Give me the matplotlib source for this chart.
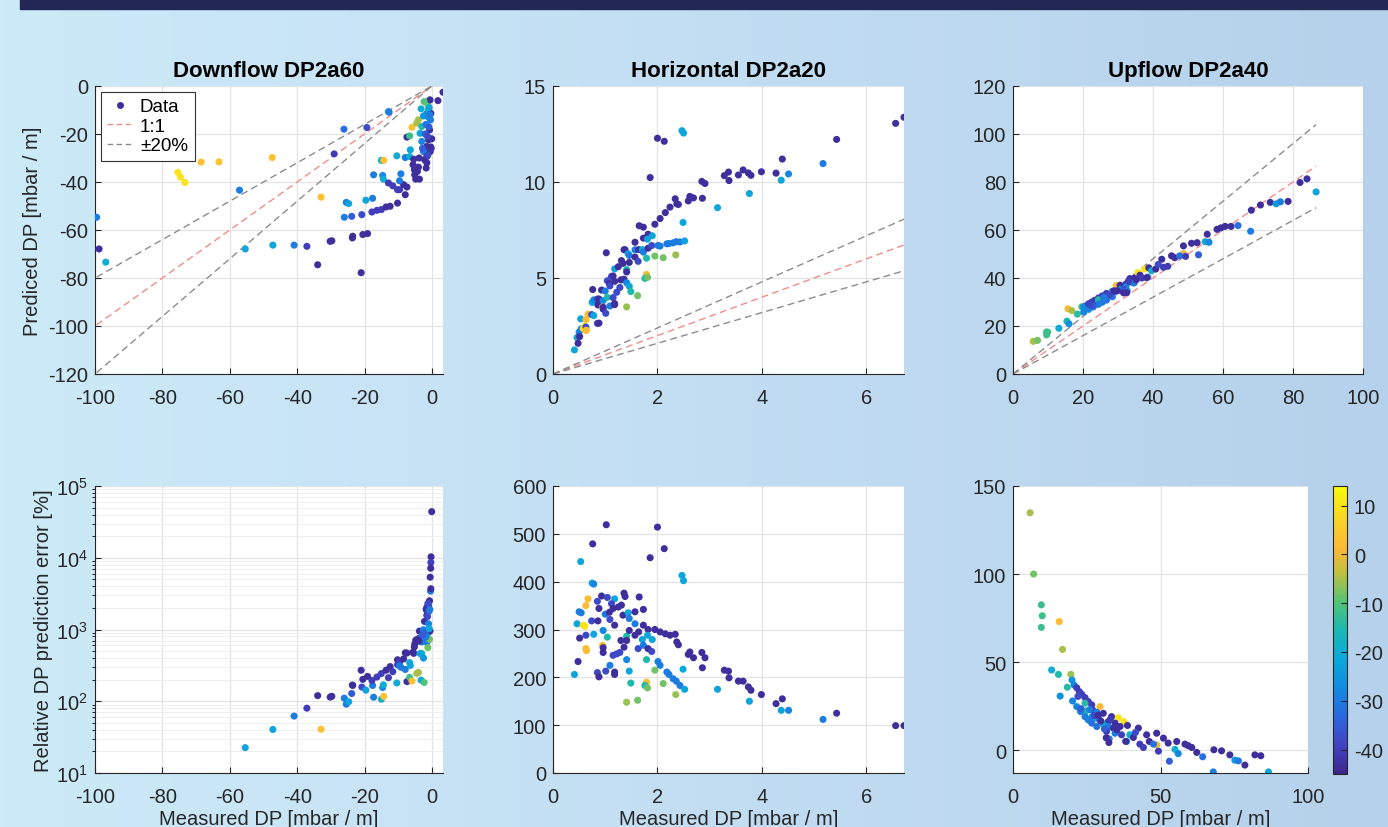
import numpy as np
import matplotlib
matplotlib.use("Agg")
import matplotlib.pyplot as plt
from matplotlib.colors import LinearSegmentedColormap, Normalize
from matplotlib.patches import Rectangle
from matplotlib.lines import Line2D

plt.rcParams['font.family'] = ['Liberation Sans', 'DejaVu Sans']
plt.rcParams['axes.unicode_minus'] = False

# ---- data -------------------------------------------------------------
# Downflow: measured DP, predicted DP, colour value
down_meas = [-99.5, -98.8, -96.8, -75.4, -74.6, -73.3, -68.5, -63.2, -47.4, -57.1,
             -55.4, -47.2, -40.9, -37.1, -32.9, -29.0, -33.9, -30.2, -29.7, -26.1,
             -26.0, -25.4, -24.7, -23.8, -23.5, -23.6, -20.8, -21.0, -20.5, -19.1,
             -19.6, -17.6, -19.3, -17.3, -17.8, -16.3, -15.0, -15.0, -14.3, -14.6,
             -14.4, -12.9, -12.7, -13.6, -12.4, -12.9, -11.6, -10.2, -10.4, -10.2,
             -9.6, -8.4, -7.9, -7.4, -9.2, -9.6, -7.9, -6.6, -7.4, -6.6,
             -5.9, -6.4, -5.4, -5.6, -5.2, -5.1, -4.8, -4.3, -4.0, -3.7,
             -4.5, -4.0, -3.0, -3.5, -3.0, -2.5, -2.2, -1.5, -1.7, -1.5,
             -1.0, -0.7, -1.5, -1.2, -0.7, -1.0, -0.4, -0.3, -0.55, 1.8,
             3.3, -1.5, -0.5, -0.05, -0.25, -0.3, -0.35, -1.2, -2.0, -1.8,
             -2.5, -1.0, -0.8, -3.2, -2.3, -2.8, -1.3, -0.9, -0.6, -3.8]
down_pred = [-54.7, -67.9, -73.4, -36.0, -38.0, -40.2, -31.7, -31.6, -29.8, -43.4,
             -67.9, -66.3, -66.3, -66.8, -46.3, -28.3, -74.5, -64.7, -64.5, -18.0,
             -54.7, -48.5, -49.0, -54.3, -62.6, -63.3, -53.6, -77.8, -61.9, -61.5,
             -47.6, -46.8, -17.3, -37.0, -52.5, -51.8, -51.5, -31.0, -31.0, -37.3,
             -38.8, -10.7, -10.9, -50.4, -50.1, -40.4, -41.6, -48.8, -29.1, -43.2,
             -43.2, -41.1, -45.3, -42.1, -36.6, -39.5, -29.8, -29.4, -21.3, -20.8,
             -17.2, -26.6, -30.5, -32.8, -34.9, -37.0, -38.8, -35.6, -33.8, -38.8,
             -15.5, -14.1, -16.9, -19.7, -23.1, -27.3, -30.7, -29.4, -34.2, -25.2,
             -22.4, -18.3, -11.4, -7.9, -5.8, -10.0, -14.1, -11.4, -5.8, -6.1,
             -2.6, -32.0, -27.3, -22.0, -26.0, -26.1, -25.4, -28.8, -20.0, -16.0,
             -12.5, -13.0, -9.0, -9.5, -6.5, -26.0, -21.0, -17.0, -12.0, -30.0]
down_c = [-30, -43, -20, 10, 10, 10, 3, 3, 3, -30,
          -22, -22, -30, -40, 3, -40, -43, -43, -43, -32,
          -30, -30, -22, -35, -43, -43, -38, -43, -43, -43,
          -22, -30, -38, -30, -40, -40, -40, -18, 3, -28,
          -20, -28, -30, -43, -43, -40, -40, -43, -20, -40,
          -40, -43, -43, -43, -30, -30, -30, -20, -43, -12,
          3, -22, -43, -43, -43, -43, -43, -43, -43, -43,
          -5, -5, -15, -22, -28, -30, -43, -43, -43, -43,
          -43, -43, -30, -8, -8, -20, -30, -43, -43, -43,
          -43, -43, -43, -43, -43, -40, -43, -38, -35, -30,
          -25, -28, -22, -20, -10, -35, -38, -35, -30, -43]

# Horizontal: measured DP, relative error [%], colour value
hor_meas = [1.02, 2.0, 2.13, 1.86, 0.76, 0.53, 0.75, 0.78, 2.47, 2.5, 0.67, 0.63,
            0.93, 0.85, 1.18, 1.04, 1.36, 1.38, 1.65, 0.5, 0.54, 0.88, 1.0, 1.08,
            1.12, 1.15, 1.25, 1.31, 1.34, 1.44, 1.57, 1.73, 0.46, 0.58, 0.61, 0.74,
            0.86, 1.09, 1.18, 1.46, 1.57, 1.73, 1.82, 1.95, 2.05, 2.15, 2.24, 2.34,
            0.51, 0.63, 0.78, 0.96, 1.04, 1.41, 1.46, 1.57, 1.64, 1.71, 1.81, 1.9,
            1.3, 1.41, 2.37, 2.4, 0.95, 0.96, 0.63, 0.64, 1.36, 1.63, 1.73, 1.82,
            1.89, 2.62, 2.59, 2.69, 2.85, 2.91, 0.48, 0.96, 1.15, 1.22, 1.28, 1.41,
            1.79, 2.01, 2.05, 1.09, 2.86, 2.49, 0.85, 1.01, 1.18, 1.18, 0.88, 0.41,
            1.46, 1.95, 2.18, 2.22, 2.3, 2.36, 2.43, 3.28, 3.36, 3.37, 3.55, 3.64,
            3.74, 3.79, 3.99, 3.15, 2.52, 3.76, 1.49, 1.79, 1.76, 1.81, 2.11, 2.35,
            1.41, 1.62, 4.27, 4.39, 4.37, 4.51, 5.17, 5.43, 6.56, 6.72]
hor_err = [519, 514, 469, 450, 479, 442, 397, 395, 413, 402, 364, 350,
           370, 359, 364, 367, 376, 369, 368, 337, 335, 344, 332, 336,
           354, 344, 347, 351, 330, 335, 337, 342, 312, 309, 307, 318,
           318, 321, 309, 323, 312, 309, 300, 300, 295, 291, 288, 290,
           282, 288, 290, 298, 284, 286, 298, 288, 295, 279, 288, 279,
           277, 277, 274, 268, 267, 262, 260, 256, 263, 260, 267, 260,
           254, 253, 248, 241, 252, 241, 233, 252, 246, 249, 252, 237,
           237, 233, 225, 225, 220, 217, 210, 213, 211, 206, 201, 206,
           213, 215, 211, 206, 197, 192, 183, 215, 213, 199, 192, 192,
           180, 173, 164, 175, 175, 150, 188, 190, 183, 178, 187, 164,
           148, 152, 145, 155, 131, 131, 112, 125, 99, 99]
hor_c = [-43, -43, -43, -43, -43, -22, -22, -28, -22, -22, 2, 2,
         -43, -38, -22, -38, -43, -43, -43, -30, -30, -43, -30, -43,
         -38, -43, -43, -43, -43, -22, -43, -43, -22, 10, 10, -38,
         -43, -38, -43, -30, -30, -43, -43, -43, -43, -43, -43, -43,
         -43, -38, -22, -28, -15, -15, -43, -43, -43, -22, -22, -22,
         -43, -43, -43, -43, 2, -43, 2, 2, -43, -38, -30, -43,
         -38, -43, -43, -43, -43, -43, -43, -43, -38, -38, -38, -28,
         -15, -30, -30, -30, -43, -22, -38, -38, -43, -43, -43, -22,
         -22, -8, -30, -30, -30, -30, -30, -43, -43, -43, -43, -43,
         -43, -43, -43, -22, -22, -22, -15, 2, -15, -8, -8, -6,
         -6, -8, -43, -43, -22, -28, -30, -43, -43, -43]

# Upflow: measured DP, relative error [%], colour value
up_meas = [5.8, 7.0, 9.6, 9.9, 9.6, 15.7, 16.8, 13.1, 15.4, 19.6, 20.0, 20.7,
           18.4, 21.6, 22.5, 23.3, 16.0, 24.4, 20.2, 25.5, 26.7, 29.5, 21.6, 24.4,
           24.7, 22.9, 27.0, 28.4, 30.6, 26.7, 24.4, 27.8, 29.3, 33.4, 35.7, 37.6,
           32.3, 30.6, 34.6, 25.5, 26.7, 28.4, 32.3, 34.0, 36.3, 38.8, 31.7, 34.6,
           36.8, 39.6, 42.5, 32.6, 38.5, 40.8, 43.0, 45.3, 46.2, 48.7, 51.0, 48.7,
           44.2, 47.6, 49.3, 52.6, 55.5, 53.0, 54.9, 56.0, 58.3, 59.4, 60.6, 62.3,
           64.3, 68.1, 70.7, 73.5, 75.2, 76.4, 78.6, 82.0, 84.0, 67.9, 86.6, 23.0,
           27.5, 31.0, 29.8, 31.6, 32.5, 38.2, 22.0, 26.0, 28.9, 33.0, 35.2, 41.5]
up_err = [134.8, 100, 82.5, 76.3, 69.7, 73, 57.2, 45.5, 43, 43, 39.8, 37,
          35.7, 35.4, 33.2, 31.7, 30.7, 29.8, 27.9, 27.6, 25.7, 24.7, 24.7, 26.6,
          22.2, 21.9, 22.8, 21.5, 20.9, 19, 19, 18.1, 17.2, 19, 18.4, 16.2,
          16.2, 14.7, 15.3, 17.2, 15.3, 13.4, 13.4, 12.5, 13.4, 14, 10.6, 9.6,
          8.7, 8.7, 12.5, 6.4, 4.9, 7.2, 3.4, 8.7, 4.9, 9.6, 6.8, 3,
          1.5, 3.4, -0.6, 4, 4.9, -6.3, 0.4, -2, 3.4, 2.5, 1.5, -1.3,
          -3.8, 0.2, -0.4, -2.7, -5.7, -6.1, -8.5, -2.7, -3.2, -12.4, -12.4, 23.5,
          19.5, 12, 16.5, 7, 4.3, 5, 30.5, 23, 19.8, 17.5, 11.5, 10]
up_c = [-5, -8, -12, -12, -12, 2, -5, -20, -15, -6, -25, -28,
        -14, -40, -40, -40, -26, -40, -28, -40, -40, 2, -28, -14,
        -15, -30, -40, -30, -43, -20, -30, -20, -30, -43, 10, 10,
        -43, -22, -43, -30, -32, -32, -30, -43, -43, -43, -40, -30,
        -40, -20, -43, -30, -30, -43, -40, -43, -43, -43, -43, 0,
        -40, -32, -40, -43, -43, -35, -20, -28, -43, -43, -43, -43,
        -32, -43, -43, -43, -25, -30, -43, -43, -43, -30, -22, -35,
        -38, -35, -43, -43, -43, -43, -38, -30, -43, -40, -43, -38]

titles = ["Downflow DP2a60", "Horizontal DP2a20", "Upflow DP2a40"]

# ---- colormap (parula-like) ------------------------------------------
parula = LinearSegmentedColormap.from_list("parula", [
    (0.00, (0.24, 0.15, 0.55)), (0.10, (0.26, 0.26, 0.76)),
    (0.20, (0.17, 0.41, 0.88)), (0.30, (0.07, 0.55, 0.88)),
    (0.40, (0.05, 0.66, 0.86)), (0.50, (0.10, 0.72, 0.70)),
    (0.60, (0.33, 0.77, 0.45)), (0.70, (0.75, 0.75, 0.25)),
    (0.78, (0.98, 0.72, 0.22)), (0.88, (0.98, 0.82, 0.15)),
    (1.00, (0.98, 0.98, 0.05))])
norm = Normalize(vmin=-45, vmax=14)

down_meas = np.array(down_meas); down_pred = np.array(down_pred)
down_err = (down_pred - down_meas) / down_meas * 100
hor_meas = np.array(hor_meas); hor_err = np.array(hor_err)
hor_pred = hor_meas * (1 + hor_err / 100)
up_meas = np.array(up_meas); up_err = np.array(up_err)
up_pred = up_meas * (1 + up_err / 100)

W, H = 1388, 828
fig = plt.figure(figsize=(W / 100, H / 100), dpi=100)

# background gradient + top band
bg = fig.add_axes([0, 0, 1, 1], zorder=-10)
grad = np.linspace(0, 1, 256)[None, :]
bgcmap = LinearSegmentedColormap.from_list("bg", ["#cdeaf8", "#c3def3", "#b5d1eb"])
bg.imshow(grad, aspect="auto", cmap=bgcmap, extent=[0, 1, 0, 1])
bg.axis("off")
fig.patches.append(Rectangle((20 / W, 1 - 10 / H), 1, 10 / H, transform=fig.transFigure,
                             color="#232756", zorder=5))


def px(l, r, t, b):
    return [l / W, 1 - b / H, (r - l) / W, (b - t) / H]


TXT = "#262626"
FS = 14.5


def style(ax):
    ax.set_facecolor("white")
    for s in ["top", "right"]:
        ax.spines[s].set_visible(False)
    for s in ["left", "bottom"]:
        ax.spines[s].set_color(TXT)
        ax.spines[s].set_linewidth(0.8)
    ax.tick_params(direction="in", length=4, labelsize=FS, colors=TXT)
    ax.tick_params(axis="x", pad=10)
    ax.tick_params(axis="y", pad=5)
    ax.grid(True, color="#e3e3e3", lw=0.9)
    ax.set_axisbelow(True)


def refs(ax, meas):
    xs = np.array([min(0, meas.min()), max(0, meas.max())])
    ax.plot(xs, xs, "--", color="#f08c8c", lw=1, dashes=(5, 3))
    ax.plot(xs, 1.2 * xs, "--", color="#8c8c8c", lw=1, dashes=(5, 3))
    ax.plot(xs, 0.8 * xs, "--", color="#8c8c8c", lw=1, dashes=(5, 3))


S = 26
axTL = fig.add_axes(px(95, 443, 87, 375))
axTM = fig.add_axes(px(553, 904, 87, 375))
axTR = fig.add_axes(px(1013, 1363, 87, 375))
axBL = fig.add_axes(px(95, 443, 487, 774))
axBM = fig.add_axes(px(553, 904, 487, 774))
axBR = fig.add_axes(px(1013, 1308, 487, 774))
cax = fig.add_axes(px(1333, 1347, 487, 775))

for ax in [axTL, axTM, axTR, axBL, axBM, axBR]:
    style(ax)

# top row
for ax, m, p, c, t in [(axTL, down_meas, down_pred, down_c, titles[0]),
                       (axTM, hor_meas, hor_pred, hor_c, titles[1]),
                       (axTR, up_meas, up_pred, up_c, titles[2])]:
    refs(ax, m)
    ax.scatter(m, p, c=c, cmap=parula, norm=norm, s=S, lw=0, zorder=3)
    ax.set_title(t, fontsize=16, fontweight="bold", color="black", pad=7)

axTL.set_xlim(-100, 3.3); axTL.set_ylim(-120, 0)
axTL.set_xticks(np.arange(-100, 1, 20)); axTL.set_yticks(np.arange(-120, 1, 20))
axTM.set_xlim(0, hor_meas.max()); axTM.set_ylim(0, 15)
axTM.set_xticks([0, 2, 4, 6]); axTM.set_yticks([0, 5, 10, 15])
axTR.set_xlim(0, 100); axTR.set_ylim(0, 120)
axTR.set_xticks(np.arange(0, 101, 20)); axTR.set_yticks(np.arange(0, 121, 20))

handles = [Line2D([], [], ls="none", marker="o", ms=5, mfc=parula(0.03), mec="none"),
           Line2D([], [], ls="--", color="#f08c8c", lw=1, dashes=(4, 2.5)),
           Line2D([], [], ls="--", color="#8c8c8c", lw=1, dashes=(4, 2.5))]
leg = axTL.legend(handles, ["Data", "1:1", "±20%"], loc="upper left", fontsize=13.5,
                  frameon=True, fancybox=False, framealpha=1, edgecolor="#333333",
                  borderaxespad=0.3, handlelength=1.4, handletextpad=0.35,
                  borderpad=0.35, labelspacing=0.12)
leg.get_frame().set_linewidth(0.8)

# bottom row
pos = down_err > 0
axBL.scatter(down_meas[pos], down_err[pos], c=np.array(down_c)[pos],
             cmap=parula, norm=norm, s=S, lw=0, zorder=3)
axBL.set_yscale("log")
axBL.set_xlim(-100, 3.3); axBL.set_ylim(10, 1e5)
axBL.set_xticks(np.arange(-100, 1, 20))
axBL.grid(True, which="minor", color="#efefef", lw=0.7)

axBM.scatter(hor_meas, hor_err, c=hor_c, cmap=parula, norm=norm, s=S, lw=0, zorder=3)
axBM.set_xlim(0, hor_meas.max()); axBM.set_ylim(0, 600)
axBM.set_xticks([0, 2, 4, 6]); axBM.set_yticks(np.arange(0, 601, 100))

sc = axBR.scatter(up_meas, up_err, c=up_c, cmap=parula, norm=norm, s=S, lw=0, zorder=3)
axBR.set_xlim(0, 100); axBR.set_ylim(-13, 150)
axBR.set_xticks([0, 50, 100]); axBR.set_yticks([0, 50, 100, 150])

cb = fig.colorbar(sc, cax=cax)
cb.set_ticks([10, 0, -10, -20, -30, -40])
cb.ax.tick_params(direction="in", length=4, labelsize=FS, colors=TXT, pad=5)
cb.outline.set_edgecolor(TXT)
cb.outline.set_linewidth(0.8)

for ax in [axBL, axBM, axBR]:
    ax.set_xlabel("Measured DP [mbar / m]", fontsize=FS, color=TXT, labelpad=2)
axTL.set_ylabel("Prediced DP [mbar / m]", fontsize=FS, color=TXT, labelpad=4)
axBL.set_ylabel("Relative DP prediction error [%]", fontsize=FS, color=TXT, labelpad=2)

fig.savefig("out.png", dpi=100)
